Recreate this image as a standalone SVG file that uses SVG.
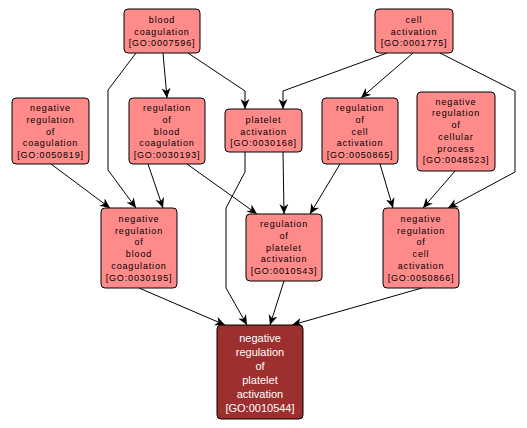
<svg xmlns="http://www.w3.org/2000/svg" width="527" height="428" viewBox="0 0 527 428">
<style>
.n rect{fill:#ff8a8a;stroke:#000;stroke-width:1}
.n text{font-family:"Liberation Sans",Arial,sans-serif;font-size:9px;letter-spacing:0.85px;fill:#000;text-anchor:middle}
.d rect{fill:#9e2f2f;stroke:#000;stroke-width:1}
.d text{font-family:"Liberation Sans",Arial,sans-serif;font-size:11px;fill:#fff;text-anchor:middle}
.e path{fill:none;stroke:#000;stroke-width:1;marker-end:url(#ah)}
</style>
<defs>
<marker id="ah" markerUnits="userSpaceOnUse" markerWidth="10" markerHeight="10" viewBox="0 0 10 10" refX="10" refY="5" orient="auto">
<path d="M0,0.5 L10,5 L0,9.5 L3,5 z" fill="#000"/>
</marker>
</defs>
<rect width="527" height="428" fill="#fff"/>
<g id="edges" class="e">
<path d="M163,53 L167,98"/>
<path d="M188,53 L245,91 L245,109"/>
<path d="M136,53 L108,90 L108,170 L136,208"/>
<path d="M51,164 L110,208"/>
<path d="M148,164 L163,208"/>
<path d="M187,164 L257,214"/>
<path d="M245,152 L245,172 L226,208 L226,288 L247,325"/>
<path d="M283,152 L284,214"/>
<path d="M387,53 L283,91 L283,109"/>
<path d="M413,53 L361,98"/>
<path d="M440,53 L515,91 L515,172 L448,208"/>
<path d="M340,164 L310,214"/>
<path d="M380,164 L393,208"/>
<path d="M455,171 L423,208"/>
<path d="M139,288 L225,325"/>
<path d="M284,281 L270,325"/>
<path d="M422,288 L292,325"/>
</g>
<g id="GO0007596" class="n"><rect x="124" y="9" width="76" height="44" rx="4"/>
<text x="162" y="23">blood</text><text x="162" y="34.7">coagulation</text><text x="162" y="46.3">[GO:0007596]</text></g>
<g id="GO0001775" class="n"><rect x="375" y="9" width="78" height="44" rx="4"/>
<text x="414" y="23">cell</text><text x="414" y="34.7">activation</text><text x="414" y="46.3">[GO:0001775]</text></g>
<g id="GO0050819" class="n"><rect x="12" y="98" width="77" height="66" rx="4"/>
<text x="50.5" y="111.3">negative</text><text x="50.5" y="123">regulation</text><text x="50.5" y="134.7">of</text><text x="50.5" y="146.3">coagulation</text><text x="50.5" y="158">[GO:0050819]</text></g>
<g id="GO0030193" class="n"><rect x="129" y="98" width="76" height="66" rx="4"/>
<text x="167" y="111.3">regulation</text><text x="167" y="123">of</text><text x="167" y="134.7">blood</text><text x="167" y="146.3">coagulation</text><text x="167" y="158">[GO:0030193]</text></g>
<g id="GO0030168" class="n"><rect x="225" y="109" width="77" height="43" rx="4"/>
<text x="263.5" y="123">platelet</text><text x="263.5" y="134.7">activation</text><text x="263.5" y="146.3">[GO:0030168]</text></g>
<g id="GO0050865" class="n"><rect x="322" y="98" width="76" height="66" rx="4"/>
<text x="360" y="111.3">regulation</text><text x="360" y="123">of</text><text x="360" y="134.7">cell</text><text x="360" y="146.3">activation</text><text x="360" y="158">[GO:0050865]</text></g>
<g id="GO0048523" class="n"><rect x="417" y="92" width="78" height="79" rx="4"/>
<text x="456" y="104.7">negative</text><text x="456" y="116.4">regulation</text><text x="456" y="128.1">of</text><text x="456" y="139.8">cellular</text><text x="456" y="151.5">process</text><text x="456" y="163.2">[GO:0048523]</text></g>
<g id="GO0030195" class="n"><rect x="101" y="208" width="76" height="80" rx="4"/>
<text x="139" y="222">negative</text><text x="139" y="233.7">regulation</text><text x="139" y="245.4">of</text><text x="139" y="257.1">blood</text><text x="139" y="268.8">coagulation</text><text x="139" y="280.5">[GO:0030195]</text></g>
<g id="GO0010543" class="n"><rect x="246" y="214" width="76" height="67" rx="4"/>
<text x="284" y="227.3">regulation</text><text x="284" y="239">of</text><text x="284" y="250.7">platelet</text><text x="284" y="262.4">activation</text><text x="284" y="274.1">[GO:0010543]</text></g>
<g id="GO0050866" class="n"><rect x="383" y="208" width="76" height="80" rx="4"/>
<text x="421" y="222">negative</text><text x="421" y="233.7">regulation</text><text x="421" y="245.4">of</text><text x="421" y="257.1">cell</text><text x="421" y="268.8">activation</text><text x="421" y="280.5">[GO:0050866]</text></g>
<g id="GO0010544" class="d"><rect x="217" y="325" width="86" height="94" rx="4"/>
<text x="260" y="341.5">negative</text><text x="260" y="355.5">regulation</text><text x="260" y="369.5">of</text><text x="260" y="383.5">platelet</text><text x="260" y="397.5">activation</text><text x="260" y="411.5">[GO:0010544]</text></g>
</svg>
